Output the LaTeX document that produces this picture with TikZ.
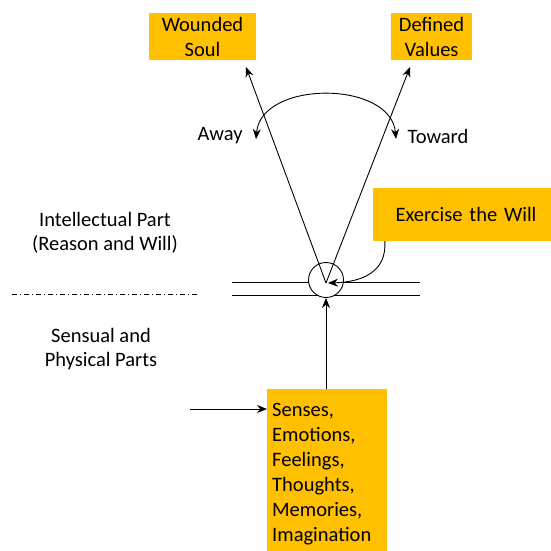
\documentclass[tikz,border=0pt]{standalone}
\usepackage{fontspec}
\setmainfont{Carlito}
\usetikzlibrary{arrows.meta}
\definecolor{boxorange}{HTML}{FFC000}
\begin{document}
\begin{tikzpicture}[x=1pt,y=-1pt,
  obox/.style={fill=boxorange, inner sep=0pt, font=\fontsize{20.5}{25}\selectfont, align=center},
  lbl/.style={font=\fontsize{20.5}{24}\selectfont, align=center, inner sep=0pt},
  arr/.style={-{Stealth[length=10pt,width=8pt]}, line width=0.9pt},
  ln/.style={line width=0.9pt}]
\useasboundingbox (0,0) rectangle (551,550);
% boxes
\node[obox, minimum width=107pt, minimum height=47pt] (ws) at (202.5,36.5) {Wounded\\Soul};
\node[obox, minimum width=81pt, minimum height=47pt] (dv) at (431.5,36.5) {Defined\\Values};
\node[obox, minimum width=178pt, minimum height=53pt, text width=168pt, align=center] (ew) at (462,214.5) {\hspace*{8pt}Exercise the Will};
\node[obox, minimum width=118pt, minimum height=165pt, anchor=north west, text width=110pt, align=left, inner xsep=5pt, inner ysep=14pt, font=\fontsize{20.5}{25}\selectfont] (ss) at (267,389) {Senses,\\Emotions,\\Feelings,\\Thoughts,\\Memories,\\Imagination\\[-6pt]\mbox{}};
% labels
\node[lbl] (away) at (220,136) {Away};
\node[lbl] (toward) at (438,136) {Toward};
\node[lbl] (ip) at (105,233) {Intellectual Part\\(Reason and Will)};
\node[lbl] (sp) at (101,349) {Sensual and\\Physical Parts};
% coordinates
\coordinate (L1a) at (232,282);
\coordinate (L1b) at (420,282);
\coordinate (L2a) at (232,295);
\coordinate (L2b) at (420,295);
\coordinate (vx) at (326,283);
\coordinate (tipL) at (246,67);
\coordinate (tipR) at (410,67);
\coordinate (arcL) at (256,139);
\coordinate (arcR) at (396,139);
\coordinate (dd1) at (12,294);
\coordinate (dd2) at (198,294);
\coordinate (in1) at (190,409);
% double line and circle
\draw[ln] (L1a) -- (L1b);
\draw[ln] (L2a) -- (L2b);
\node[circle, draw, line width=0.9pt, fill=white, minimum size=35pt, inner sep=0pt] (c) at (326,280) {};
% V arrows
\draw[arr] (vx) -- (tipL);
\draw[arr] (vx) -- (tipR);
% arc
\draw[{Stealth[length=10pt,width=8pt]}-{Stealth[length=10pt,width=8pt]}, line width=0.9pt] (arcL) .. controls (261,80) and (391,80) .. (arcR);
% exercise curve
\draw[arr] (ew.south west) ++(12pt,0) coordinate (ews) .. controls (387,272) and (362,282) .. (328,283);
% vertical arrow
\draw[arr] (ss.north -| c.south) -- (c.south);
% dash-dot
\draw[line width=0.6pt, dash pattern=on 5pt off 3pt on 1pt off 3pt] (dd1) -- (dd2);
% input arrow
\draw[arr] (in1) -- (in1 -| ss.west);
\end{tikzpicture}
\end{document}
